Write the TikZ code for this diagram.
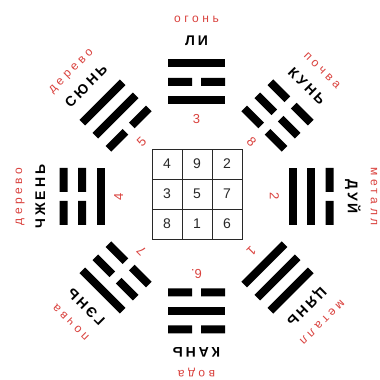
\documentclass[tikz,border=0pt]{standalone}
\usepackage{fontspec}
\setmainfont{Liberation Sans}
\newfontfamily\redfont[LetterSpace=30]{Liberation Sans}
\newfontfamily\namefont[LetterSpace=20]{Liberation Sans}
\definecolor{lbl}{RGB}{218,66,62}
\definecolor{ink}{RGB}{40,40,40}
\tikzset{
  elem/.style={inner sep=0pt,text height=1ex,text depth=0pt,text=lbl,font=\redfont\fontsize{12}{14}\selectfont},
  nm/.style={inner sep=0pt,text height=1.4ex,text depth=0pt,text=black,font=\namefont\bfseries\fontsize{14}{16}\selectfont},
  num/.style={inner sep=0pt,text height=1.4ex,text depth=0pt,text=lbl,font=\fontsize{13}{15}\selectfont},
  cell/.style={draw=ink,line width=0.9pt,minimum size=30pt,inner sep=0pt,text=ink,font=\fontsize{14}{16}\selectfont},
  yaofill/.style={fill=black}
}
\newcommand\yao[2]{\if#2y\fill[yaofill] (-28.5,#1-4) rectangle (28.5,#1+4);\else\fill[yaofill] (-28.5,#1-4) rectangle (-4.5,#1+4) (4.5,#1-4) rectangle (28.5,#1+4);\fi}
\newcommand\trig[8]{%
\begin{scope}[shift={(196.5,183.5)},rotate=#1]
\node[elem,rotate=#1] (e#8) at (0,177) {#2};
\node[nm,rotate=#1] (n#8) at (0,155) {#3};
\yao{133}{#4}\yao{114.5}{#5}\yao{96}{#6}
\node[num,rotate=#1] (d#8) at (0,77) {#7};
\end{scope}}
\begin{document}
\begin{tikzpicture}[x=1pt,y=1pt]
\useasboundingbox (0,0) rectangle (380,380);
\fill[white] (0,0) rectangle (380,380);
\trig{0}{огонь}{ЛИ}{y}{n}{y}{3}{li}
\trig{-45}{почва}{КУНЬ}{n}{n}{n}{8}{kun}
\trig{-90}{металл}{ДУЙ}{n}{y}{y}{2}{dui}
\trig{-135}{металл}{ЦЯНЬ}{y}{y}{y}{1}{qian}
\trig{180}{вода}{КАНЬ}{n}{y}{n}{6.}{kan}
\trig{135}{почва}{ГЭНЬ}{y}{n}{n}{7}{gen}
\trig{90}{дерево}{ЧЖЕНЬ}{n}{n}{y}{4}{zhen}
\trig{45}{дерево}{СЮНЬ}{y}{y}{n}{5}{xun}
\node[cell] (g11) at (167,216) {4};
\node[cell] (g12) at (197,216) {9};
\node[cell] (g13) at (227,216) {2};
\node[cell] (g21) at (167,186) {3};
\node[cell] (g22) at (197,186) {5};
\node[cell] (g23) at (227,186) {7};
\node[cell] (g31) at (167,156) {8};
\node[cell] (g32) at (197,156) {1};
\node[cell] (g33) at (227,156) {6};
\end{tikzpicture}
\end{document}
